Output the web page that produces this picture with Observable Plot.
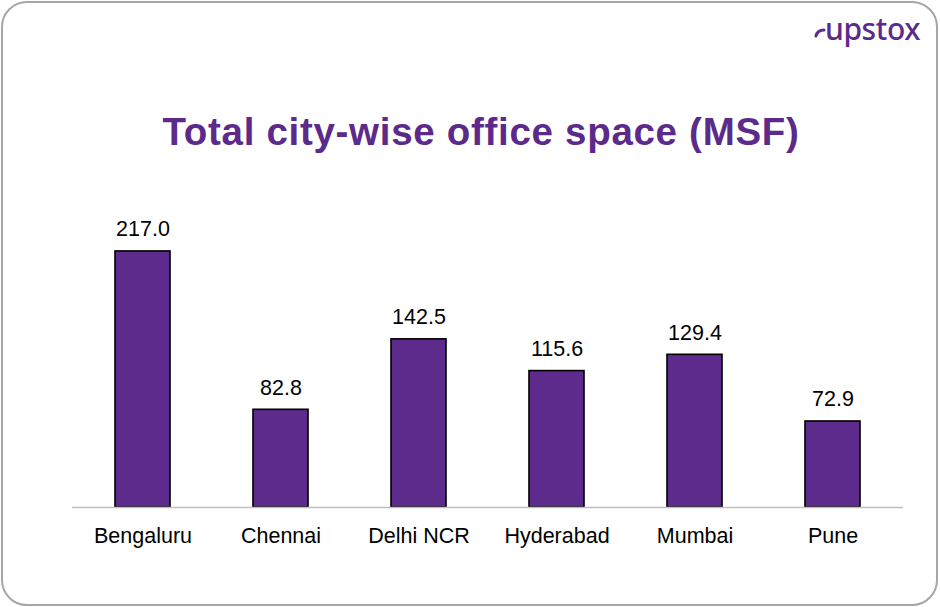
<!DOCTYPE html>
<html>
<head>
<meta charset="utf-8">
<script src="https://cdn.jsdelivr.net/npm/d3@7"></script>
<script src="https://cdn.jsdelivr.net/npm/@observablehq/plot@0.6"></script>
<style>
  html, body { margin: 0; padding: 0; background: #fff; }
  #wrap { position: relative; width: 940px; height: 607px; overflow: hidden; font-family: "Liberation Sans", Arial, sans-serif; }
  #frame { position: absolute; left: 1px; top: 1px; width: 933px; height: 601px; border: 2px solid #a6a6a6; border-radius: 26px; pointer-events: none; }
  #title { position: absolute; left: 0; width: 962px; top: 110px; text-align: center; font-size: 38.5px; letter-spacing: 0.7px; font-weight: bold; color: #5b2a8a; white-space: nowrap; }
  #logo { position: absolute; left: 814px; top: 8px; font-family: "Noto Sans", sans-serif; font-size: 30px; font-weight: 500; color: #5b2a8a; letter-spacing: -0.4px; display: flex; align-items: center; }
  #chart { position: absolute; left: 0; top: 0; }
</style>
</head>
<body>
<div id="wrap">
  <div id="chart"></div>
  <div id="title">Total city-wise office space (MSF)</div>
  <div id="logo"><svg width="12" height="14" viewBox="0 0 12 14" style="margin-top:6px;margin-right:-1px"><path d="M2 11 C3 7, 6 5, 10 5" stroke="#5b2a8a" stroke-width="3" fill="none" stroke-linecap="round"/></svg><span>upstox</span></div>
  <div id="frame"></div>
</div>
<script>
const cities = ["Bengaluru", "Chennai", "Delhi NCR", "Hyderabad", "Mumbai", "Pune"];
const values = [217.0, 82.8, 142.5, 115.6, 129.4, 72.9];

const data = cities.map((c, i) => ({city: c, value: values[i]}));

const chart = Plot.plot({
  width: 940,
  height: 607,
  marginLeft: 72,
  marginRight: 37,
  marginTop: 212,
  marginBottom: 100,
  style: {fontFamily: "'Liberation Sans', Arial, sans-serif", background: "transparent"},
  x: {domain: cities, paddingInner: 0.6, paddingOuter: 0.3, label: null},
  y: {domain: [0, 250], axis: null},
  marks: [
    Plot.barY(data, {x: "city", y: "value", fill: "#5c2b8c", stroke: "#000", strokeWidth: 1.6}),
    Plot.ruleY([0], {stroke: "#bfbfbf", strokeWidth: 1.5}),
    Plot.text(data, {x: "city", y: "value", text: d => d.value.toFixed(1), dy: -22, fontSize: 21.5, fill: "#000"}),
    Plot.axisX({tickSize: 0, tickPadding: 20, fontSize: 21.5, fill: "#000", label: null})
  ]
});
document.getElementById("chart").appendChild(chart);
</script>
</body>
</html>
